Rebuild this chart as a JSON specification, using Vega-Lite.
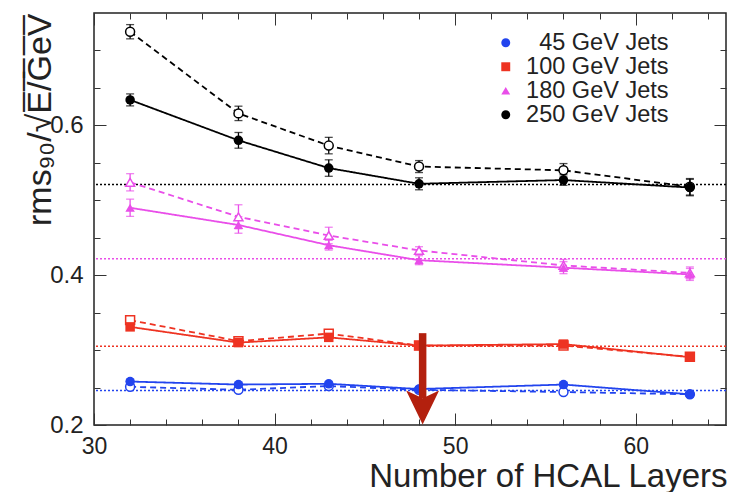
{
  "$schema": "https://vega.github.io/schema/vega-lite/v6.json",
  "width": 632,
  "height": 412,
  "autosize": {"type": "none"},
  "padding": {"left": 94, "top": 13, "right": 4, "bottom": 67},
  "background": "white",
  "config": {
    "view": {"stroke": "#222222", "strokeWidth": 1.5},
    "font": "Liberation Sans",
    "axis": {"grid": false, "domain": false, "tickColor": "#333333", "tickWidth": 1, "labelColor": "#222222", "titleColor": "#222222", "labelFont": "Liberation Sans", "titleFont": "Liberation Sans", "titleFontWeight": "normal"}
  },
  "datasets": {
    "series": [
      {"energy": "45 GeV Jets", "kind": "solid", "layers": 32, "rms": 0.258, "err": 0.003},
      {"energy": "45 GeV Jets", "kind": "solid", "layers": 38, "rms": 0.254, "err": 0.003},
      {"energy": "45 GeV Jets", "kind": "solid", "layers": 43, "rms": 0.255, "err": 0.003},
      {"energy": "45 GeV Jets", "kind": "solid", "layers": 48, "rms": 0.248, "err": 0.003},
      {"energy": "45 GeV Jets", "kind": "solid", "layers": 56, "rms": 0.254, "err": 0.003},
      {"energy": "45 GeV Jets", "kind": "solid", "layers": 63, "rms": 0.241, "err": 0.003},
      {"energy": "45 GeV Jets", "kind": "dashed", "layers": 32, "rms": 0.251, "err": 0.003},
      {"energy": "45 GeV Jets", "kind": "dashed", "layers": 38, "rms": 0.247, "err": 0.003},
      {"energy": "45 GeV Jets", "kind": "dashed", "layers": 43, "rms": 0.252, "err": 0.003},
      {"energy": "45 GeV Jets", "kind": "dashed", "layers": 48, "rms": 0.247, "err": 0.003},
      {"energy": "45 GeV Jets", "kind": "dashed", "layers": 56, "rms": 0.244, "err": 0.003},
      {"energy": "45 GeV Jets", "kind": "dashed", "layers": 63, "rms": 0.241, "err": 0.003},
      {"energy": "100 GeV Jets", "kind": "solid", "layers": 32, "rms": 0.331, "err": 0.004},
      {"energy": "100 GeV Jets", "kind": "solid", "layers": 38, "rms": 0.310, "err": 0.004},
      {"energy": "100 GeV Jets", "kind": "solid", "layers": 43, "rms": 0.317, "err": 0.004},
      {"energy": "100 GeV Jets", "kind": "solid", "layers": 48, "rms": 0.306, "err": 0.004},
      {"energy": "100 GeV Jets", "kind": "solid", "layers": 56, "rms": 0.308, "err": 0.004},
      {"energy": "100 GeV Jets", "kind": "solid", "layers": 63, "rms": 0.2905, "err": 0.004},
      {"energy": "100 GeV Jets", "kind": "dashed", "layers": 32, "rms": 0.340, "err": 0.004},
      {"energy": "100 GeV Jets", "kind": "dashed", "layers": 38, "rms": 0.312, "err": 0.004},
      {"energy": "100 GeV Jets", "kind": "dashed", "layers": 43, "rms": 0.322, "err": 0.004},
      {"energy": "100 GeV Jets", "kind": "dashed", "layers": 48, "rms": 0.306, "err": 0.004},
      {"energy": "100 GeV Jets", "kind": "dashed", "layers": 56, "rms": 0.306, "err": 0.004},
      {"energy": "100 GeV Jets", "kind": "dashed", "layers": 63, "rms": 0.291, "err": 0.004},
      {"energy": "180 GeV Jets", "kind": "solid", "layers": 32, "rms": 0.490, "err": 0.0115},
      {"energy": "180 GeV Jets", "kind": "solid", "layers": 38, "rms": 0.467, "err": 0.011},
      {"energy": "180 GeV Jets", "kind": "solid", "layers": 43, "rms": 0.440, "err": 0.0065},
      {"energy": "180 GeV Jets", "kind": "solid", "layers": 48, "rms": 0.420, "err": 0.006},
      {"energy": "180 GeV Jets", "kind": "solid", "layers": 56, "rms": 0.410, "err": 0.008},
      {"energy": "180 GeV Jets", "kind": "solid", "layers": 63, "rms": 0.401, "err": 0.008},
      {"energy": "180 GeV Jets", "kind": "dashed", "layers": 32, "rms": 0.524, "err": 0.0115},
      {"energy": "180 GeV Jets", "kind": "dashed", "layers": 38, "rms": 0.478, "err": 0.016},
      {"energy": "180 GeV Jets", "kind": "dashed", "layers": 43, "rms": 0.453, "err": 0.011},
      {"energy": "180 GeV Jets", "kind": "dashed", "layers": 48, "rms": 0.433, "err": 0.005},
      {"energy": "180 GeV Jets", "kind": "dashed", "layers": 56, "rms": 0.413, "err": 0.008},
      {"energy": "180 GeV Jets", "kind": "dashed", "layers": 63, "rms": 0.403, "err": 0.008},
      {"energy": "250 GeV Jets", "kind": "solid", "layers": 32, "rms": 0.634, "err": 0.008},
      {"energy": "250 GeV Jets", "kind": "solid", "layers": 38, "rms": 0.580, "err": 0.0105},
      {"energy": "250 GeV Jets", "kind": "solid", "layers": 43, "rms": 0.543, "err": 0.011},
      {"energy": "250 GeV Jets", "kind": "solid", "layers": 48, "rms": 0.522, "err": 0.008},
      {"energy": "250 GeV Jets", "kind": "solid", "layers": 56, "rms": 0.527, "err": 0.007},
      {"energy": "250 GeV Jets", "kind": "solid", "layers": 63, "rms": 0.517, "err": 0.011},
      {"energy": "250 GeV Jets", "kind": "dashed", "layers": 32, "rms": 0.725, "err": 0.0095},
      {"energy": "250 GeV Jets", "kind": "dashed", "layers": 38, "rms": 0.616, "err": 0.0096},
      {"energy": "250 GeV Jets", "kind": "dashed", "layers": 43, "rms": 0.573, "err": 0.011},
      {"energy": "250 GeV Jets", "kind": "dashed", "layers": 48, "rms": 0.545, "err": 0.008},
      {"energy": "250 GeV Jets", "kind": "dashed", "layers": 56, "rms": 0.540, "err": 0.009},
      {"energy": "250 GeV Jets", "kind": "dashed", "layers": 63, "rms": 0.518, "err": 0.011}
    ],
    "refs": [
      {"energy": "45 GeV Jets", "ref": 0.246},
      {"energy": "100 GeV Jets", "ref": 0.305},
      {"energy": "180 GeV Jets", "ref": 0.422},
      {"energy": "250 GeV Jets", "ref": 0.521}
    ],
    "arrow": [
      {"ax": 48.2, "top": 0.3226, "bottom": 0.236, "head": 0.2233}
    ]
  },
  "layer": [
    {
      "data": {"name": "refs"},
      "mark": {"type": "rule", "strokeDash": [2, 2], "strokeWidth": 1.5},
      "encoding": {
        "y": {"field": "ref", "type": "quantitative", "scale": {"domain": [0.2, 0.75], "nice": false, "zero": false}, "axis": null},
        "color": {"field": "energy", "type": "nominal", "scale": {"domain": ["45 GeV Jets", "100 GeV Jets", "180 GeV Jets", "250 GeV Jets"], "range": ["#2244ee", "#ee3322", "#e94ee9", "#000000"]}, "legend": null}
      }
    },
    {
      "data": {"name": "series"},
      "mark": {"type": "line", "strokeWidth": 1.8},
      "encoding": {
        "x": {"field": "layers", "type": "quantitative", "scale": {"domain": [30, 65], "nice": false, "zero": false},
          "axis": {"orient": "bottom", "values": [30, 40, 50, 60], "tickSize": -12, "labelPadding": 22, "labelFontSize": 23, "labelFlush": false,
            "title": "Number of HCAL Layers", "titleFontSize": 33, "titleAnchor": "end", "titleAlign": "right", "titleBaseline": "alphabetic", "titleX": 633, "titleY": 61}},
        "y": {"field": "rms", "type": "quantitative", "scale": {"domain": [0.2, 0.75], "nice": false, "zero": false},
          "axis": {"orient": "left", "values": [0.2, 0.4, 0.6], "format": ".1f", "tickSize": -12, "labelPadding": 23, "labelFontSize": 24, "labelFlush": false,
            "title": "rms\u2089\u2080/\u221aE\u0305/\u0305G\u0305e\u0305V\u0305", "titleFontSize": 34, "titleAngle": -90, "titleAlign": "right", "titleBaseline": "alphabetic", "titleX": -44, "titleY": 0}},
        "color": {"field": "energy", "type": "nominal", "scale": {"domain": ["45 GeV Jets", "100 GeV Jets", "180 GeV Jets", "250 GeV Jets"], "range": ["#2244ee", "#ee3322", "#e94ee9", "#000000"]}, "legend": null},
        "strokeDash": {"field": "kind", "type": "nominal", "scale": {"domain": ["solid", "dashed"], "range": [[1, 0], [6, 4]]}, "legend": null}
      }
    },
    {
      "data": {"name": "series"},
      "mark": {"type": "errorbar", "ticks": {"size": 8, "thickness": 1.3}, "thickness": 1.3},
      "encoding": {
        "x": {"field": "layers", "type": "quantitative", "scale": {"domain": [30, 65], "nice": false, "zero": false}, "axis": null},
        "y": {"field": "rms", "type": "quantitative", "scale": {"domain": [0.2, 0.75], "nice": false, "zero": false}, "axis": null},
        "yError": {"field": "err"},
        "color": {"field": "energy", "type": "nominal", "scale": {"domain": ["45 GeV Jets", "100 GeV Jets", "180 GeV Jets", "250 GeV Jets"], "range": ["#2244ee", "#ee3322", "#e94ee9", "#000000"]}, "legend": null}
      }
    },
    {
      "data": {"name": "series"},
      "transform": [{"filter": "datum.kind == 'dashed'"}],
      "mark": {"type": "point", "filled": false, "fill": "white", "fillOpacity": 1, "size": 80, "strokeWidth": 1.5, "opacity": 1},
      "encoding": {
        "x": {"field": "layers", "type": "quantitative", "scale": {"domain": [30, 65], "nice": false, "zero": false},
          "axis": {"orient": "bottom", "values": [30, 32, 34, 36, 38, 40, 42, 44, 46, 48, 50, 52, 54, 56, 58, 60, 62, 64], "tickSize": -6, "labels": false, "title": null}},
        "y": {"field": "rms", "type": "quantitative", "scale": {"domain": [0.2, 0.75], "nice": false, "zero": false},
          "axis": {"orient": "left", "values": [0.2, 0.25, 0.3, 0.35, 0.4, 0.45, 0.5, 0.55, 0.6, 0.65, 0.7], "tickSize": -6, "labels": false, "title": null}},
        "color": {"field": "energy", "type": "nominal", "scale": {"domain": ["45 GeV Jets", "100 GeV Jets", "180 GeV Jets", "250 GeV Jets"], "range": ["#2244ee", "#ee3322", "#e94ee9", "#000000"]}, "legend": null},
        "shape": {"field": "energy", "type": "nominal", "scale": {"domain": ["45 GeV Jets", "100 GeV Jets", "180 GeV Jets", "250 GeV Jets"], "range": ["circle", "square", "triangle-up", "circle"]}, "legend": null}
      }
    },
    {
      "data": {"name": "series"},
      "transform": [{"filter": "datum.kind == 'solid'"}],
      "mark": {"type": "point", "filled": true, "size": 90, "opacity": 1},
      "encoding": {
        "x": {"field": "layers", "type": "quantitative", "scale": {"domain": [30, 65], "nice": false, "zero": false},
          "axis": {"orient": "top", "values": [30, 40, 50, 60], "tickSize": -12, "labels": false, "title": null}},
        "y": {"field": "rms", "type": "quantitative", "scale": {"domain": [0.2, 0.75], "nice": false, "zero": false},
          "axis": {"orient": "right", "values": [0.2, 0.4, 0.6], "tickSize": -12, "labels": false, "title": null}},
        "color": {"field": "energy", "type": "nominal", "scale": {"domain": ["45 GeV Jets", "100 GeV Jets", "180 GeV Jets", "250 GeV Jets"], "range": ["#2244ee", "#ee3322", "#e94ee9", "#000000"]},
          "legend": {"title": null, "orient": "none", "legendX": 400, "legendY": 18, "padding": 0, "labelFontSize": 23.5, "labelFont": "Liberation Sans", "labelColor": "#222222", "labelAlign": "right", "labelOffset": 151, "symbolSize": 80, "symbolStrokeWidth": 0, "rowPadding": -1}},
        "shape": {"field": "energy", "type": "nominal", "scale": {"domain": ["45 GeV Jets", "100 GeV Jets", "180 GeV Jets", "250 GeV Jets"], "range": ["circle", "square", "triangle-up", "circle"]},
          "legend": {"title": null, "orient": "none", "legendX": 400, "legendY": 18, "padding": 0, "labelFontSize": 23.5, "labelFont": "Liberation Sans", "labelColor": "#222222", "labelAlign": "right", "labelOffset": 151, "symbolSize": 80, "symbolStrokeWidth": 0, "rowPadding": -1}}
      }
    },
    {
      "data": {"name": "arrow"},
      "mark": {"type": "rule", "color": "#b3200e", "strokeWidth": 7.5},
      "encoding": {
        "x": {"field": "ax", "type": "quantitative", "scale": {"domain": [30, 65], "nice": false, "zero": false},
          "axis": {"orient": "top", "values": [30, 32, 34, 36, 38, 40, 42, 44, 46, 48, 50, 52, 54, 56, 58, 60, 62, 64], "tickSize": -6, "labels": false, "title": null}},
        "y": {"field": "top", "type": "quantitative", "scale": {"domain": [0.2, 0.75], "nice": false, "zero": false},
          "axis": {"orient": "right", "values": [0.2, 0.25, 0.3, 0.35, 0.4, 0.45, 0.5, 0.55, 0.6, 0.65, 0.7], "tickSize": -6, "labels": false, "title": null}},
        "y2": {"field": "bottom"}
      }
    },
    {
      "data": {"name": "arrow"},
      "mark": {"type": "point", "filled": true, "color": "#b3200e", "opacity": 1, "size": 1156, "shape": "M-0.97,-1L0,-0.55L0.97,-1L0,1Z"},
      "encoding": {
        "x": {"field": "ax", "type": "quantitative", "scale": {"domain": [30, 65], "nice": false, "zero": false}, "axis": null},
        "y": {"field": "head", "type": "quantitative", "scale": {"domain": [0.2, 0.75], "nice": false, "zero": false}, "axis": null}
      }
    }
  ],
  "resolve": {"scale": {"x": "shared", "y": "shared"}, "axis": {"x": "independent", "y": "independent"}, "legend": {"color": "independent", "shape": "independent"}}
}
